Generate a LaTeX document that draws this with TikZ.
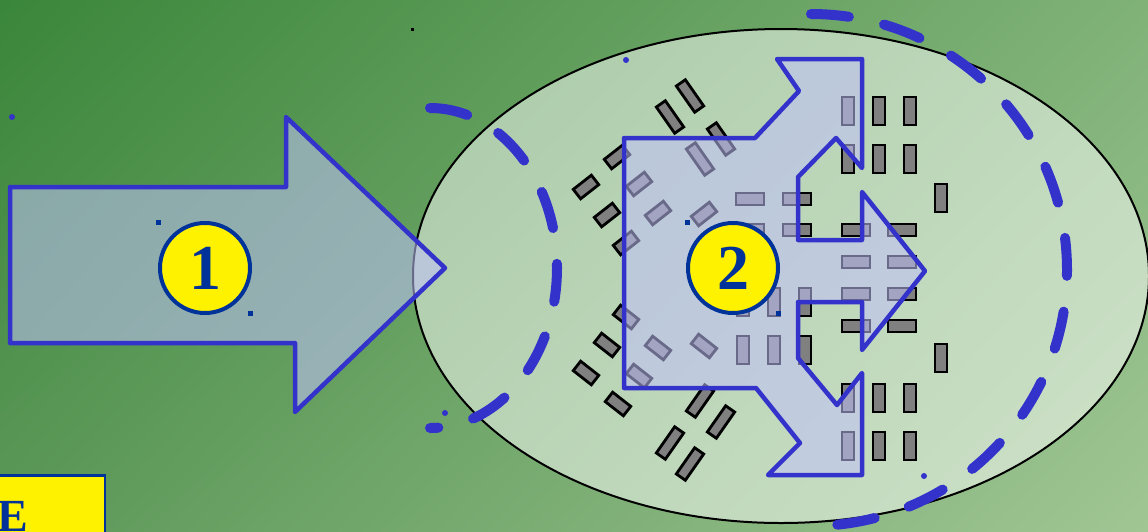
\documentclass[tikz,border=0pt]{standalone}
\usepackage{fontspec}
\setmainfont{Liberation Serif}
\usetikzlibrary{shadings}
\definecolor{bluel}{RGB}{51,51,204}
\definecolor{navy}{RGB}{0,51,153}
\definecolor{afill}{RGB}{193,193,250}
\definecolor{rgray}{RGB}{128,128,128}
\definecolor{bgUL}{RGB}{58,134,58}
\definecolor{bgUR}{RGB}{128,178,120}
\definecolor{bgLL}{RGB}{92,152,88}
\definecolor{bgLR}{RGB}{160,198,148}
\tikzset{
 bigarrow/.style={draw=bluel, line width=4.5pt, line join=round, fill=afill, fill opacity=0.55},
 lot/.style={draw=black, fill=rgray, line width=2.8pt, inner sep=0pt, outer sep=0pt},
 vlot/.style={lot, minimum width=12pt, minimum height=28pt},
 hlot/.style={lot, minimum width=28pt, minimum height=12pt},
 dlot/.style={lot, minimum width=32pt, minimum height=11pt},
 shlot/.style={lot, minimum width=23pt, minimum height=12pt},
 badge/.style={circle, fill=yellow, draw=navy, line width=4pt, minimum size=90pt, inner sep=0pt, text=navy, font=\fontsize{64}{64}\bfseries\selectfont},
 dashline/.style={draw=bluel, line width=10pt, line cap=round, dash pattern=on 38pt off 36pt},
 hdl/.style={fill=navy, inner sep=0pt, minimum size=5pt},
 pdot/.style={circle, fill=bluel, inner sep=0pt, minimum size=6pt},
}
\begin{document}
\begin{tikzpicture}[x=1pt,y=-1pt]
\useasboundingbox (0,0) rectangle (1148,531);
\clip (0,0) rectangle (1148,531);
% background
\shade[upper left=bgUL, upper right=bgUR, lower left=bgLL, lower right=bgLR] (0,0) rectangle (1148,531);
% ellipse
\draw[black, line width=2pt, fill=white, fill opacity=0.5] (781,276) ellipse [x radius=368, y radius=247];
% lots: vertical
\foreach \x/\y [count=\i] in {848/111,879/111,910/111,848/159,879/159,910/159,848/398,879/398,910/398,848/446,879/446,910/446,941/198,941/358,743/302,774/302,805/302,743/350,774/350,805/350}
  \node[vlot] (v\i) at (\x,\y) {};
% horizontal
\foreach \x/\y [count=\i] in {750/199,797/199,750/230,797/230,856/230,902/230,856/262,902/262,856/294,902/294,856/326,902/326}
  \node[hlot] (h\i) at (\x,\y) {};
% long diagonals
\foreach \x/\y [count=\i] in {690/96,670/117,721/139,700/159}
  \node[dlot, rotate=-55] (da\i) at (\x,\y) {};
\foreach \x/\y [count=\i] in {700/401,721/422,670/443,690/464}
  \node[dlot, rotate=55] (db\i) at (\x,\y) {};
% short diagonals
\foreach \x/\y [count=\i] in {617/157,586/187,607/215,626/243,639/184,658/213,704/214}
  \node[shlot, rotate=38] (sa\i) at (\x,\y) {};
\foreach \x/\y [count=\i] in {626/317,607/345,586/373,618/404,658/348,704/346,639/376}
  \node[shlot, rotate=-38] (sb\i) at (\x,\y) {};
% arrow 1
\draw[bigarrow] (10,187) -- (286,187) -- (286,117) -- (445,268) -- (295,412) -- (295,343) -- (10,343) -- cycle;
% arrow 2
\draw[bigarrow] (624,138) -- (755,138) -- (799,91) -- (777,59) -- (862,59) -- (862,168) -- (836,138) -- (798,177) -- (798,240) -- (862,240) -- (862,192) -- (925,271) -- (862,350) -- (862,302) -- (798,302) -- (798,358) -- (837,405) -- (862,373) -- (862,475) -- (768,475) -- (800,443) -- (756,388) -- (624,388) -- cycle;
% dashed curves
\draw[dashline] (430,108) arc[start angle=-90, end angle=90, x radius=127, y radius=160];
\draw[dashline] (811,14) arc[start angle=-90, end angle=90, radius=256];
% badges
\node[badge] (c1) at (205,268) {\raisebox{-3pt}{1}};
\node[badge] (c2) at (733,268) {\raisebox{-3pt}{2}};
% handles and dots
\node[hdl] (k1) at (158,222) {};
\node[hdl] (k2) at (250,313) {};
\node[hdl] (k3) at (687,222) {};
\node[hdl] (k4) at (778,313) {};
\node[fill=black, inner sep=0pt, minimum size=3pt] (k5) at (412,29) {};
\node[pdot] (p1) at (12,117) {};
\node[pdot] (p2) at (626,60) {};
\node[pdot] (p3) at (445,413) {};
\node[pdot] (p4) at (924,476) {};
% E box
\node[draw=navy, fill=yellow, line width=2.5pt, minimum width=130pt, minimum height=80pt, anchor=north east, inner sep=0pt] (ebox) at (106,474) {};
\node[anchor=base west, inner sep=0pt, text=navy, font=\fontsize{46}{46}\bfseries\selectfont] (etext) at (-3,531) {E};
\end{tikzpicture}
\end{document}
